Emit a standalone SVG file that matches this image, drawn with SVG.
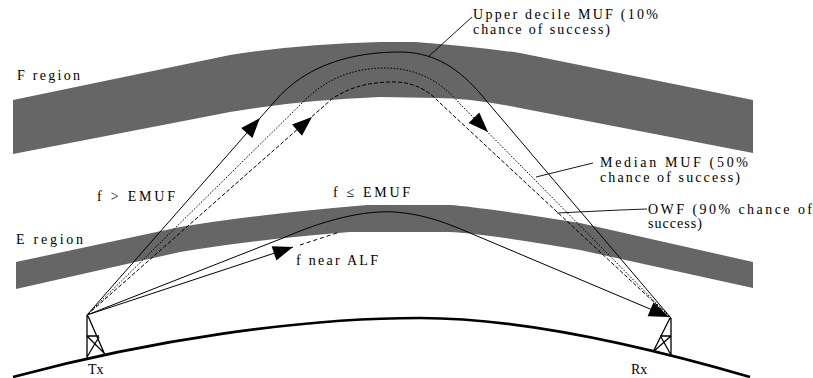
<svg xmlns="http://www.w3.org/2000/svg" width="813" height="378" viewBox="0 0 813 378">
  <style>
    .layer { fill: #666666; stroke: none; }
    .earth { fill: none; stroke: #000; stroke-width: 2.6; }
    .ray { fill: none; stroke: #000; stroke-width: 1; }
    .median { stroke-dasharray: 1.6 1.6; }
    .owf { stroke-dasharray: 4 2; }
    .alf { stroke-dasharray: 4 3; }
    .tower { fill: none; stroke: #000; stroke-width: 1.3; }
    .lead { fill: none; stroke: #000; stroke-width: 0.9; }
    text { font-family: "Liberation Serif", "DejaVu Serif", serif; font-size: 14px; fill: #000; }
  </style>
  <defs>
    <path id="head" d="M0,0 L-20,-7.5 L-20,7.5 Z" fill="#000"/>
  </defs>

  <!-- ionospheric layers -->
  <g id="f-region">
    <path class="layer" d="M13,100 L230,55 Q300,44 380,42 L415,42 Q470,46 520,53 L753,100 L753,153 L520,108 Q470,98 437,98 L380,97 Q300,100 230,112 L13,154 Z"/>
    <text x="17" y="80" textLength="63" lengthAdjust="spacing">F region</text>
  </g>
  <g id="e-region">
    <path class="layer" d="M16,262 L180,227 Q250,215 367,205 L450,205 Q480,207 580,223 L753,262 L753,288 L580,250 Q480,233 450,232 L350,232 Q250,240 180,252 L16,289 Z"/>
    <text x="16" y="244" textLength="67" lengthAdjust="spacing">E region</text>
  </g>

  <!-- ground -->
  <g id="earth">
    <path class="earth" d="M13,377 C150,340 300,318 420,318 C520,318 640,345 750,377"/>
  </g>

  <!-- antennas -->
  <g id="tx">
    <path class="tower" d="M87,315 L87,358 M88,316 L105,355 M87,336 L99,336 M87,336 L104,353 M87,357 L99,337"/>
    <text x="88" y="374">Tx</text>
  </g>
  <g id="rx">
    <path class="tower" d="M671,318 L671,356 M670,318 L653,352 M660,336 L671,336 M671,336 L654,351 M671,355 L661,337"/>
    <text x="631" y="374">Rx</text>
  </g>

  <!-- ray paths -->
  <g id="connectors">
    <path id="ray-upper" class="ray" d="M87,315 L275,101 C305,66 350,52 400,52 C430,52 455,65 478,91 L671,318"/>
    <path id="ray-median" class="ray median" d="M87,315 L303,102 C320,85 345,68 385,68 C415,68 440,80 460,104 L671,318"/>
    <path id="ray-owf" class="ray owf" d="M87,315 L333,98 C350,88 365,82 395,82 C415,82 430,92 440,103 L671,318"/>
    <path id="ray-e" class="ray" d="M87,315 L283,238 C320,222 360,210 395,212 C420,214 440,220 470,233 L669,317"/>
    <path id="ray-alf" class="ray" d="M87,315 L293,247"/>
    <path id="ray-alf-cont" class="ray alf" d="M300,245 L340,232"/>

    <use href="#head" transform="translate(260,118) rotate(-48.7)"/>
    <use href="#head" transform="translate(312,117) rotate(-41.4)"/>
    <use href="#head" transform="translate(488,132) rotate(45.4)"/>
    <use href="#head" transform="translate(293,247) rotate(-18.3)"/>
    <use href="#head" transform="translate(669,317) rotate(22.9)"/>

    <!-- label leaders -->
    <path class="lead" d="M472,17 L428,57"/>
    <path class="lead" d="M593,163 L536,177"/>
    <path class="lead" d="M557,213 L620,210 L647,209"/>
  </g>

  <!-- ray labels -->
  <g id="label-upper">
    <text x="473" y="19" textLength="185" lengthAdjust="spacing">Upper decile MUF (10%</text>
    <text x="473" y="34" textLength="137" lengthAdjust="spacing">chance of success)</text>
  </g>
  <g id="label-median">
    <text x="600" y="167" textLength="148" lengthAdjust="spacing">Median MUF (50%</text>
    <text x="600" y="182" textLength="140" lengthAdjust="spacing">chance of success)</text>
  </g>
  <g id="label-owf">
    <text x="648" y="214" textLength="164" lengthAdjust="spacing">OWF (90% chance of</text>
    <text x="648" y="228" textLength="54" lengthAdjust="spacing">success)</text>
  </g>
  <g id="label-f-gt">
    <text x="97" y="201" textLength="78" lengthAdjust="spacing">f &gt; EMUF</text>
  </g>
  <g id="label-f-le">
    <text x="333" y="197" textLength="77" lengthAdjust="spacing">f ≤ EMUF</text>
  </g>
  <g id="label-alf">
    <text x="296" y="265" textLength="82" lengthAdjust="spacing">f near ALF</text>
  </g>
</svg>
